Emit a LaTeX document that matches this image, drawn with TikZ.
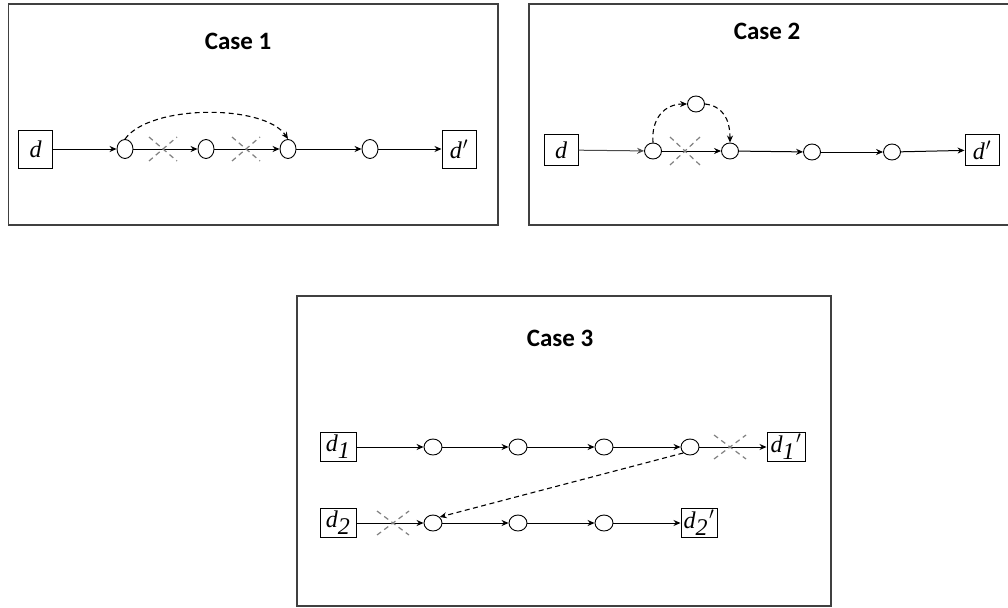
\documentclass[tikz,border=0pt]{standalone}
\usepackage{fontspec}
\setmainfont{Liberation Serif}
\newfontfamily\titlefont{Carlito}
\usetikzlibrary{arrows.meta,shapes.geometric}
\begin{document}
\begin{tikzpicture}[x=1pt,y=-1pt,
  frame/.style={draw=black!75,line width=1.4pt},
  title/.style={font=\titlefont\bfseries\fontsize{25}{27}\selectfont},
  dbox/.style={draw,line width=1pt,inner sep=0pt,minimum width=34pt,minimum height=38pt,font=\itshape\fontsize{24}{26}\selectfont},
  circ/.style={ellipse,draw,line width=0.9pt,inner sep=0pt,minimum width=16pt,minimum height=19pt},
  arr/.style={-{Stealth[length=7pt,width=6pt]},line width=1pt},
  dasharr/.style={-{Stealth[length=7pt,width=6pt]},line width=1.1pt,dash pattern=on 5pt off 3.5pt},
  xmark/.style={draw=black!50,line width=1.2pt,dash pattern=on 5pt off 4pt}
]
\useasboundingbox (0,0) rectangle (1008,607);
\fill[white] (0,0) rectangle (1008,607);
% frames
\draw[frame] (8.5,4) rectangle (498,225);
\draw[frame] (529,4) rectangle (1015,225);
\draw[frame] (297,296) rectangle (831,606);
% titles
\node[title] (t1) at (238,41) {Case 1};
\node[title] (t2) at (767,31) {Case 2};
\node[title] (t3) at (560,338) {Case 3};

% ---- Case 1
\node[dbox] (a0) at (35.5,149) {d};
\node[circ] (a1) at (125,149) {};
\node[circ] (a2) at (206,149) {};
\node[circ] (a3) at (288,149) {};
\node[circ] (a4) at (370,149) {};
\node[dbox] (a5) at (459,149) {d\kern1pt$'$};
\draw[arr] (a0) -- (a1);
\draw[arr] (a1) -- (a2);
\draw[arr] (a2) -- (a3);
\draw[arr] (a3) -- (a4);
\draw[arr] (a4) -- (a5);
\draw[dasharr] (a1.north) .. controls (150,104) and (265,104) .. (a3.north);
\coordinate (ax1) at (163,149);
\coordinate (ax2) at (246,149);
\foreach \c in {ax1,ax2}{
  \draw[xmark] ([shift={(-14,-12)}]\c) -- ([shift={(14,12)}]\c);
  \draw[xmark] ([shift={(-14,12)}]\c) -- ([shift={(14,-12)}]\c);
}

% ---- Case 2
\node[dbox,minimum height=31pt] (b0) at (561,150) {d};
\node[circ,minimum width=17pt,minimum height=16pt] (b1) at (653,151) {};
\node[circ,minimum width=17pt,minimum height=16pt] (b2) at (696,104) {};
\node[circ,minimum width=17pt,minimum height=16pt] (b3) at (730,151) {};
\node[circ,minimum width=17pt,minimum height=16pt] (b4) at (812,152) {};
\node[circ,minimum width=17pt,minimum height=16pt] (b5) at (892,152) {};
\node[dbox,minimum height=31pt] (b6) at (982,150) {d\kern1pt$'$};
\draw[arr,black!70] (b0) -- (b1);
\draw[arr] (b1) -- (b3);
\draw[arr] (b3) -- (b4);
\draw[arr] (b4) -- (b5);
\draw[arr] (b5) -- (b6);
\draw[dasharr] (b1.north) .. controls (651,118) and (665,104) .. (b2.west);
\draw[dasharr] (b2.east) .. controls (722,106) and (730,118) .. (b3.north);
\coordinate (bx1) at (685,151);
\draw[xmark] ([shift={(-15,-14)}]bx1) -- ([shift={(15,14)}]bx1);
\draw[xmark] ([shift={(-15,14)}]bx1) -- ([shift={(15,-14)}]bx1);

% ---- Case 3
\tikzset{cbox/.style={dbox,minimum width=36pt,minimum height=29pt},
         ccirc/.style={circ,minimum width=18pt,minimum height=16pt}}
\node[cbox] (c0) at (338,447) {d$_{\textit{1}}$};
\node[ccirc] (c1) at (433,447) {};
\node[ccirc] (c2) at (518,447) {};
\node[ccirc] (c3) at (604,447) {};
\node[ccirc] (c4) at (690,447) {};
\node[cbox,minimum width=38pt] (c5) at (786,447) {d$_{\textit{1}}$\kern1pt$'$};
\node[cbox] (e0) at (338,523) {d$_{\textit{2}}$};
\node[ccirc] (e1) at (433,523) {};
\node[ccirc] (e2) at (518,523) {};
\node[ccirc] (e3) at (604,523) {};
\node[cbox] (e4) at (699,523) {d$_{\textit{2}}$\kern1pt$'$};
\draw[arr] (c0) -- (c1);
\draw[arr] (c1) -- (c2);
\draw[arr] (c2) -- (c3);
\draw[arr] (c3) -- (c4);
\draw[arr] (c4) -- (c5);
\draw[arr] (e0) -- (e1);
\draw[arr] (e1) -- (e2);
\draw[arr] (e2) -- (e3);
\draw[arr] (e3) -- (e4);
\draw[dasharr] (c4.south west) -- (e1.north east);
\coordinate (cx1) at (730,447);
\coordinate (ex1) at (393,523);
\foreach \c in {cx1,ex1}{
  \draw[xmark] ([shift={(-16,-12)}]\c) -- ([shift={(16,12)}]\c);
  \draw[xmark] ([shift={(-16,12)}]\c) -- ([shift={(16,-12)}]\c);
}
\end{tikzpicture}
\end{document}
